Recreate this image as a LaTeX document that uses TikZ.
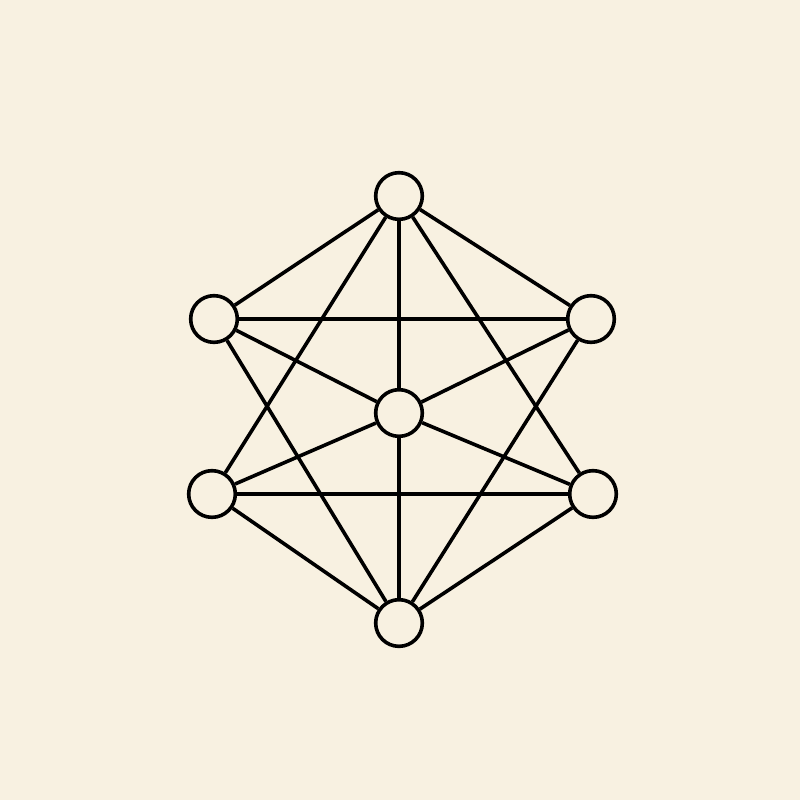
\documentclass[tikz,border=0pt]{standalone}
\usepackage{amssymb,amsmath}
\usepackage{tikz}
\usepackage{color}

\begin{document}
\begin{tikzpicture}[x=0.75pt,y=0.75pt,yscale=-1,xscale=1]
\tikzset{vtx/.style={circle,draw={rgb, 255:red, 0; green, 0; blue, 0 },line width=2.7pt,fill={rgb, 255:red, 248; green, 241; blue, 225 },minimum size=35pt,inner sep=0pt},
edg/.style={line width=2.7pt}}
%set diagram to 800 by 800
\fill [fill={rgb, 255:red, 248; green, 241; blue, 225 }] (0,0) rectangle (800,800);
\useasboundingbox (0,0) rectangle (800,800);

%Shape: Circle [id:vtop]
\node [vtx] (vt) at (399,196) {};
%Shape: Circle [id:vleftup]
\node [vtx] (vlu) at (214,319) {};
%Shape: Circle [id:vrightup]
\node [vtx] (vru) at (591,319) {};
%Shape: Circle [id:vcenter]
\node [vtx] (vc) at (399,413) {};
%Shape: Circle [id:vleftlow]
\node [vtx] (vll) at (212,494) {};
%Shape: Circle [id:vrightlow]
\node [vtx] (vrl) at (593,494) {};
%Shape: Circle [id:vbottom]
\node [vtx] (vb) at (399,623) {};

%Straight Lines from the top
\draw [edg] (vt) -- (vlu) ;
\draw [edg] (vt) -- (vru) ;
\draw [edg] (vt) -- (vc) ;
\draw [edg] (vt) -- (vll) ;
\draw [edg] (vt) -- (vrl) ;
%Straight Lines from the upper pair
\draw [edg] (vlu) -- (vru) ;
\draw [edg] (vlu) -- (vc) ;
\draw [edg] (vru) -- (vc) ;
\draw [edg] (vlu) -- (vb) ;
\draw [edg] (vru) -- (vb) ;
%Straight Lines from the lower pair
\draw [edg] (vll) -- (vrl) ;
\draw [edg] (vll) -- (vc) ;
\draw [edg] (vrl) -- (vc) ;
\draw [edg] (vll) -- (vb) ;
\draw [edg] (vrl) -- (vb) ;
%Straight Lines [id:vcenter-vbottom]
\draw [edg] (vc) -- (vb) ;

\end{tikzpicture}
\end{document}
